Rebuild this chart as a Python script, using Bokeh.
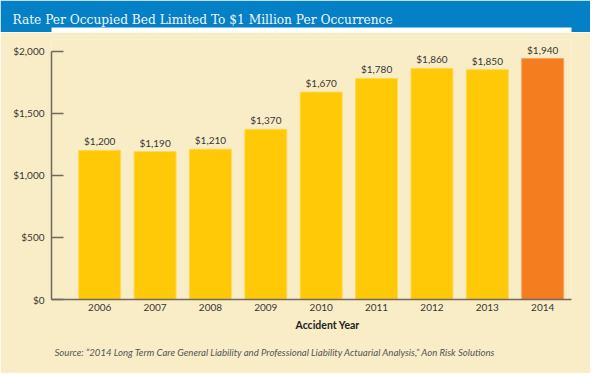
from bokeh.plotting import figure
from bokeh.layouts import column
from bokeh.models import (Range1d, FixedTicker, NumeralTickFormatter, LabelSet,
                          ColumnDataSource, Title)
from bokeh.core.properties import value
from bokeh.embed import file_html
from bokeh.resources import INLINE

# ---- data ----
years = [2006, 2007, 2008, 2009, 2010, 2011, 2012, 2013, 2014]
rates = [1200, 1190, 1210, 1370, 1670, 1780, 1860, 1850, 1940]
rate_labels = ["$1,200", "$1,190", "$1,210", "$1,370", "$1,670", "$1,780", "$1,860", "$1,850", "$1,940"]
y_ticks = [0, 500, 1000, 1500, 2000]
title_text = "Rate Per Occupied Bed Limited To $1 Million Per Occurrence"
x_title = "Accident Year"
source_text = ("Source: \u201c2014 Long Term Care General Liability and Professional Liability "
               "Actuarial Analysis,\u201d Aon Risk Solutions")

BLUE = "#0480C6"
CREAM = "#F9EDC7"
YELLOW = "#FFC907"
YELLOW_EDGE = "#FFD84E"
ORANGE = "#F47D20"
ORANGE_EDGE = "#F8A05A"
TEXT = "#3a3632"
AXIS = "#6f695f"
FONT = "Lato"

W = 590
BL, BR = 51, 19

# ---- header ----
h = figure(width=W, height=32, x_range=Range1d(0, 1), y_range=Range1d(0, 1),
           x_axis_type=None, y_axis_type=None, toolbar_location=None,
           output_backend="svg", min_border_left=BL, min_border_right=BR,
           min_border_top=27, min_border_bottom=0)
h.background_fill_color = None
h.border_fill_color = BLUE
h.outline_line_color = None
h.xgrid.visible = False
h.ygrid.visible = False
h.add_layout(Title(text=title_text, align="left", offset=-(BL - 12), standoff=0,
                   vertical_align="middle",
                   text_color="#F2F7FB", text_font="DejaVu Serif",
                   text_font_size="12.2px", text_font_style="normal"), "above")

# ---- main chart ----
p = figure(width=W, height=341, x_range=Range1d(2005.13, 2014.52), y_range=Range1d(0, 2093),
           toolbar_location=None, output_backend="svg",
           min_border_left=BL, min_border_right=BR, min_border_top=7, min_border_bottom=74)
p.background_fill_color = CREAM
p.border_fill_color = CREAM
p.outline_line_color = None
p.xgrid.visible = False
p.ygrid.visible = False

colors = [YELLOW] * (len(years) - 1) + [ORANGE]
edges = [YELLOW_EDGE] * (len(years) - 1) + [ORANGE_EDGE]
src = ColumnDataSource(dict(x=years, top=rates, lab=rate_labels, c=colors, e=edges))
p.vbar(x="x", top="top", width=0.757, fill_color="c", line_color="e", line_width=1, source=src)

p.add_layout(LabelSet(x="x", y="top", text="lab", source=src, text_align="center",
                      text_baseline="bottom", y_offset=3, text_font=value(FONT),
                      text_font_size=value("10px"), text_color=TEXT))

# y axis
ya = p.yaxis[0]
ya.bounds = (0, 2000)
ya.ticker = FixedTicker(ticks=y_ticks)
ya.formatter = NumeralTickFormatter(format="$0,0")
ya.major_tick_in = 12
ya.major_tick_out = 0
ya.minor_tick_line_color = None
ya.axis_line_color = AXIS
ya.axis_line_width = 1.5
ya.major_tick_line_color = AXIS
ya.major_tick_line_width = 1.5
ya.major_label_standoff = 7
ya.major_label_text_font = FONT
ya.major_label_text_font_size = "10px"
ya.major_label_text_color = TEXT

# x axis
xa = p.xaxis[0]
xa.ticker = FixedTicker(ticks=years)
xa.major_label_overrides = {y: str(y) for y in years}
xa.major_tick_in = 0
xa.major_tick_out = 0
xa.minor_tick_line_color = None
xa.axis_line_color = AXIS
xa.axis_line_width = 1.5
xa.major_label_standoff = 4
xa.major_label_text_font = FONT
xa.major_label_text_font_size = "10px"
xa.major_label_text_color = TEXT

p.add_layout(Title(text=x_title, align="left", offset=244, standoff=6,
                   text_font=FONT, text_font_size="10.5px", text_font_style="bold",
                   text_color="#222"), "below")
p.add_layout(Title(text=source_text, align="left", offset=3, standoff=23,
                   text_font=FONT, text_font_size="9.6px", text_font_style="italic",
                   text_color="#555"), "below")

layout = column(h, p, spacing=0)
open("out.html", "w").write(file_html(layout, INLINE))
